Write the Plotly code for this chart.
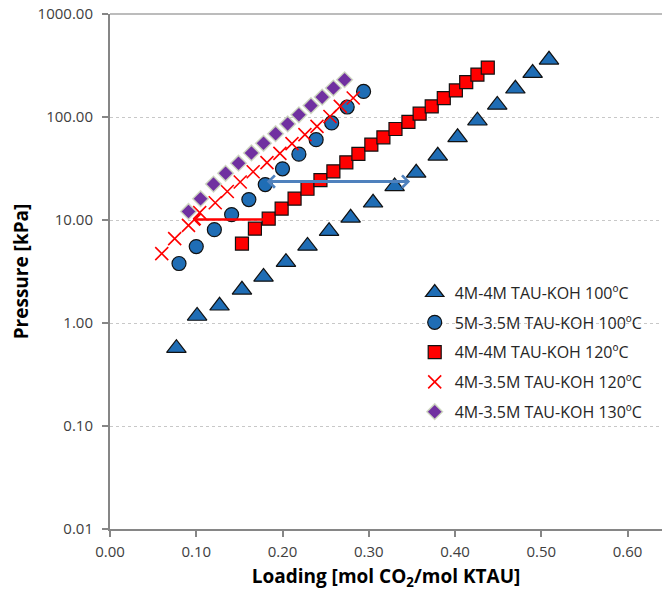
import numpy as np
import plotly.graph_objects as go

# ---- data ----
tri_x = [0.077, 0.101, 0.127, 0.153, 0.178, 0.204, 0.229, 0.254, 0.279, 0.305, 0.330, 0.355, 0.380, 0.403, 0.426, 0.449, 0.470, 0.490, 0.509]
tri_y = [0.57, 1.17, 1.47, 2.1, 2.8, 3.9, 5.6, 7.8, 10.5, 14.7, 21.2, 28.7, 42, 63.5, 92, 131, 188, 267, 359]

cir_x = [0.080, 0.100, 0.121, 0.141, 0.161, 0.180, 0.200, 0.219, 0.239, 0.257, 0.275, 0.294]
cir_y = [3.78, 5.52, 8.06, 11.3, 15.8, 22.1, 31.4, 43.6, 60.3, 87.5, 125, 177]

sq_x = [0.153, 0.168, 0.184, 0.199, 0.214, 0.229, 0.244, 0.259, 0.274, 0.288, 0.303, 0.317, 0.331, 0.346, 0.359, 0.373, 0.387, 0.401, 0.413, 0.426, 0.438]
sq_y = [5.90, 8.24, 10.3, 12.9, 16.1, 20.1, 24.4, 29.7, 36.3, 43.8, 53.9, 63.5, 76.5, 89.5, 107.6, 126.7, 152.7, 181, 218, 258, 302]

crs_x = [0.060, 0.075, 0.091, 0.104, 0.122, 0.136, 0.151, 0.166, 0.182, 0.197, 0.211, 0.226, 0.240, 0.255, 0.267, 0.282]
crs_y = [4.72, 6.59, 8.87, 11.8, 14.7, 18.9, 23.4, 29.4, 36.1, 44.4, 55.2, 67.4, 81.1, 101, 127, 153]

dia_x = [0.091, 0.105, 0.120, 0.134, 0.149, 0.164, 0.178, 0.192, 0.206, 0.219, 0.233, 0.246, 0.259, 0.272]
dia_y = [12.1, 16.1, 22.3, 28.4, 35.6, 44.8, 55.5, 68.9, 85.7, 105, 129, 156, 191, 230]

names = ["4M-4M TAU-KOH 100ºC", "5M-3.5M TAU-KOH 100ºC", "4M-4M TAU-KOH 120ºC",
         "4M-3.5M TAU-KOH 120ºC", "4M-3.5M TAU-KOH 130ºC"]

# arrows: [x_start, x_end], y level
blue_arrow_x = [0.180, 0.348]
blue_arrow_y = 23.6
red_arrow_x = [0.184, 0.096]
red_arrow_y = 10.1

x_ticks = [0.0, 0.1, 0.2, 0.3, 0.4, 0.5, 0.6]
y_ticks = [0.01, 0.1, 1, 10, 100, 1000]
y_ticktext = ["0.01", "0.10", "1.00", "10.00", "100.00", "1000.00"]

FONT = "Open Sans"
BLUE = "#1F6DB5"
RED = "#FF0000"
PURPLE = "#7030A0"

fig = go.Figure()
fig.add_trace(go.Scatter(x=tri_x, y=tri_y, mode="markers", name=names[0], legendgroup="a",
                         marker=dict(symbol="triangle-up", size=17, color=BLUE,
                                     line=dict(color="#111111", width=1.2))))
fig.add_trace(go.Scatter(x=cir_x, y=cir_y, mode="markers", name=names[1], legendgroup="b",
                         marker=dict(symbol="circle", size=14, color=BLUE,
                                     line=dict(color="#111111", width=1.2))))
fig.add_trace(go.Scatter(x=sq_x, y=sq_y, mode="markers", name=names[2], legendgroup="c",
                         marker=dict(symbol="square", size=13, color=RED,
                                     line=dict(color="#111111", width=1.2))))
fig.add_trace(go.Scatter(x=crs_x, y=crs_y, mode="markers", name=names[3], legendgroup="d",
                         marker=dict(symbol="x-thin-open", size=13, color=RED,
                                     line=dict(color=RED, width=1.6))))
fig.add_trace(go.Scatter(x=dia_x, y=dia_y, mode="markers", name=names[4], legendgroup="e",
                         marker=dict(symbol="diamond", size=12, color=PURPLE,
                                     line=dict(color="rgba(205,215,190,0.9)", width=1.5))))

# arrows
fig.add_annotation(x=blue_arrow_x[1], y=np.log10(blue_arrow_y), ax=blue_arrow_x[0], ay=np.log10(blue_arrow_y),
                   xref="x", yref="y", axref="x", ayref="y", text="", showarrow=True,
                   arrowhead=4, startarrowhead=4, arrowside="end+start", arrowwidth=3,
                   arrowsize=0.8, startarrowsize=0.8, arrowcolor="#4F81BD")
fig.add_annotation(x=red_arrow_x[1], y=np.log10(red_arrow_y), ax=red_arrow_x[0], ay=np.log10(red_arrow_y),
                   xref="x", yref="y", axref="x", ayref="y", text="", showarrow=True,
                   arrowhead=4, arrowwidth=2.5, arrowsize=0.9, arrowcolor=RED)

# top border
fig.add_shape(type="line", xref="paper", yref="paper", x0=0, x1=1, y0=1, y1=1,
              line=dict(color="#A6A6A6", width=1.5))

fig.update_layout(
    width=663, height=595,
    margin=dict(l=110, r=1, t=14, b=66),
    paper_bgcolor="white", plot_bgcolor="white",
    font=dict(family=FONT, size=14, color="#404040"),
    showlegend=True,
    legend=dict(x=0.552, y=0.492, xanchor="left", yanchor="top",
                bgcolor="rgba(0,0,0,0)", font=dict(size=16, color="#262626", family=FONT),
                tracegroupgap=6, itemwidth=30),
    xaxis=dict(range=[0, 0.64], tickvals=x_ticks, tickformat=".2f",
               showgrid=False, zeroline=False, automargin=False,
               showline=True, linecolor="#868686", linewidth=2,
               ticks="outside", ticklen=6, tickcolor="#868686", tickwidth=1.5,
               ticklabelstandoff=2, ticklabeloverflow="allow",
               tickfont=dict(size=15, color="#404040", family=FONT),
               title=dict(text="<b>Loading [mol CO<sub>2</sub>/mol KTAU]</b>",
                          font=dict(size=19, color="#000000", family=FONT),
                          standoff=10)),
    yaxis=dict(type="log", range=[-2, 3], tickvals=y_ticks, ticktext=y_ticktext,
               showgrid=True, gridcolor="#C8C8C8", griddash="dot", gridwidth=1,
               zeroline=False, automargin=False,
               showline=True, linecolor="#868686", linewidth=2,
               ticks="outside", ticklen=6, tickcolor="#868686", tickwidth=1.5,
               ticklabelstandoff=6, ticklabeloverflow="allow",
               tickfont=dict(size=15, color="#404040", family=FONT),
               title=dict(text="<b>Pressure [kPa]</b>",
                          font=dict(size=19, color="#000000", family=FONT), standoff=4)),
)

fig.write_html("out.html", config={"displayModeBar": False},
               post_script="document.body.style.margin='0';")
